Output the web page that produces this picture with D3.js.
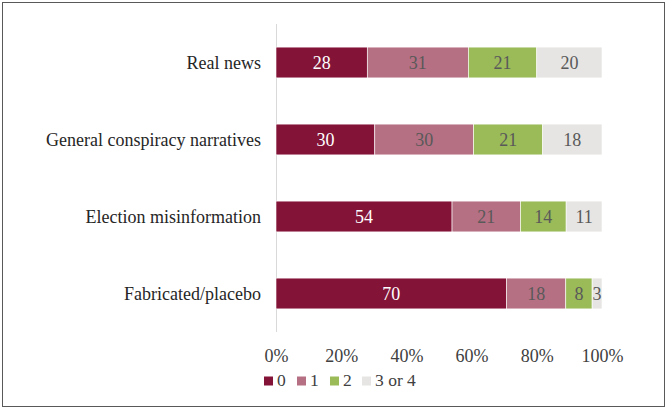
<!DOCTYPE html>
<html><head><meta charset="utf-8">
<script src="https://cdn.jsdelivr.net/npm/d3@7"></script>
<style>body{margin:0;background:#fff}svg{display:block}</style>
</head><body><svg id="c" width="667" height="409"></svg>
<script>
const categories = ["Real news", "General conspiracy narratives", "Election misinformation", "Fabricated/placebo"];
const seriesNames = ["0", "1", "2", "3 or 4"];
const s0 = [28, 30, 54, 70];
const s1 = [31, 30, 21, 18];
const s2 = [21, 21, 14, 8];
const s3 = [20, 18, 11, 3];
const tickLabels = ["0%", "20%", "40%", "60%", "80%", "100%"];
const colors = ["#831438", "#B57083", "#9BBB59", "#E6E5E3"];
const labelColors = ["#ffffff", "#595959", "#595959", "#595959"];

const font = "'Liberation Serif', 'DejaVu Serif', serif";
const fs = 18;
const svg = d3.select("#c");
svg.append("rect").attr("x", 2.5).attr("y", 2.5).attr("width", 662).attr("height", 404)
  .attr("fill", "#fff").attr("stroke", "#595959").attr("stroke-width", 1);

const series = [s0, s1, s2, s3];
const rows = categories.map((c, i) => {
  const o = {cat: c};
  seriesNames.forEach((s, j) => o[s] = series[j][i]);
  o.total = d3.sum(series, a => a[i]);
  return o;
});
const norm = rows.map(r => { const o = {cat: r.cat}; seriesNames.forEach(s => o[s] = r[s] / r.total * 100); return o; });
const stacked = d3.stack().keys(seriesNames)(norm);

const x = d3.scaleLinear().domain([0, 100]).range([276, 602]);
const y = d3.scaleBand().domain(categories).range([24, 332]).paddingInner(0.6).paddingOuter(0.3);

svg.append("line").attr("x1", 276.5).attr("x2", 276.5).attr("y1", 24).attr("y2", 332)
  .attr("stroke", "#D9D9D9").attr("stroke-width", 1);

stacked.forEach((layer, j) => {
  const g = svg.append("g");
  g.selectAll("rect").data(layer).join("rect")
    .attr("x", d => x(d[0])).attr("width", d => x(d[1]) - x(d[0]))
    .attr("y", (d, i) => y(categories[i])).attr("height", y.bandwidth())
    .attr("fill", colors[j]).attr("stroke", "#fff").attr("stroke-width", 0.6);
  g.selectAll("text").data(layer).join("text")
    .attr("x", d => (x(d[0]) + x(d[1])) / 2)
    .attr("y", (d, i) => y(categories[i]) + y.bandwidth() / 2 + 6.5)
    .attr("text-anchor", "middle").attr("font-family", font).attr("font-size", fs)
    .attr("fill", labelColors[j])
    .text((d, i) => series[j][i]);
});

svg.append("g").selectAll("text").data(categories).join("text")
  .attr("x", 261).attr("y", d => y(d) + y.bandwidth() / 2 + 6.5)
  .attr("text-anchor", "end").attr("font-family", font).attr("font-size", fs).attr("fill", "#262626")
  .text(d => d);

const xAxis = d3.axisBottom(x).tickValues([0, 20, 40, 60, 80, 100]).tickFormat((d, i) => tickLabels[i]).tickSize(0).tickPadding(0);
const ax = svg.append("g").attr("transform", "translate(0,348)").call(xAxis);
ax.select(".domain").remove();
ax.selectAll("text").attr("font-family", font).attr("font-size", fs).attr("fill", "#404040")
  .attr("dy", null).attr("y", 13.7);

const legX = [264, 297, 330, 362];
const lg = svg.append("g");
seriesNames.forEach((s, j) => {
  lg.append("rect").attr("x", legX[j]).attr("y", 376.5).attr("width", 9).attr("height", 9).attr("fill", colors[j]);
  lg.append("text").attr("x", legX[j] + 13).attr("y", 385.5).attr("font-family", font).attr("font-size", 17.5)
    .attr("fill", "#404040").text(s);
});
</script></body></html>
